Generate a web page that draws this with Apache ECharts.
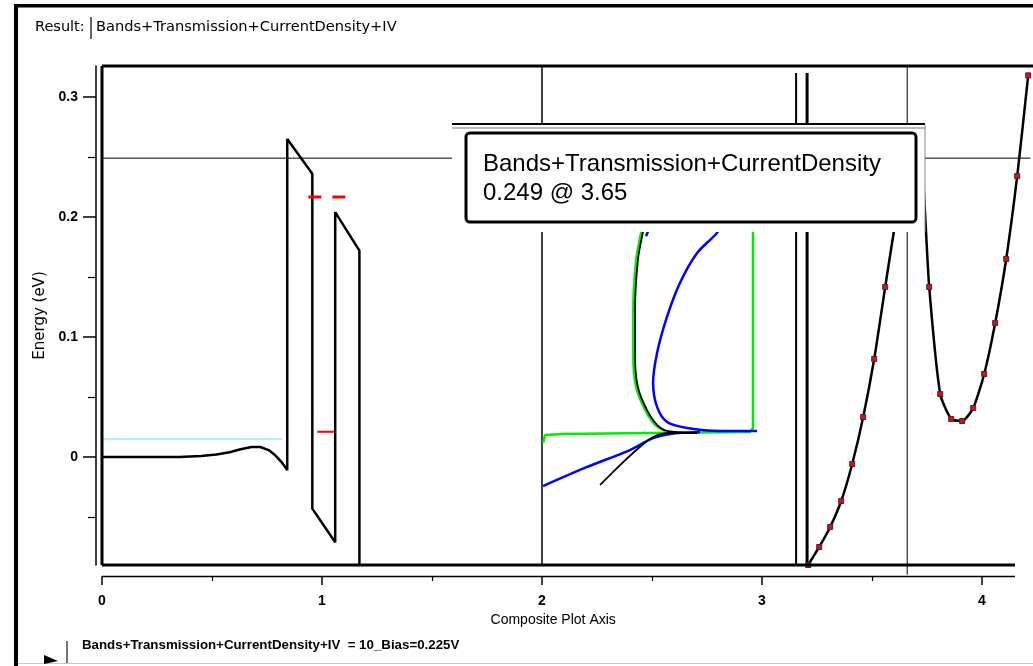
<!DOCTYPE html>
<html><head><meta charset="utf-8">
<script src="https://cdn.jsdelivr.net/npm/echarts@6/dist/echarts.min.js"></script>
<style>html,body{margin:0;padding:0;background:#fff}#c{width:1033px;height:666px}</style>
</head><body><div id="c"></div>
<script>
// ---- axis ticks ----
const xTicks = [0, 1, 2, 3, 4];
const xMinorTicks = [0.5, 1.5, 2.5, 3.5];
const yTicks = [0, 0.1, 0.2, 0.3];
const yMinorTicks = [-0.05, 0.05, 0.15, 0.25];

// ---- band profile (composite x, energy eV) ----
const bandsX = [0, 0.35, 0.45, 0.52, 0.58, 0.63, 0.68, 0.72, 0.76, 0.79, 0.815, 0.835, 0.842, 0.842, 0.956, 0.956, 1.06, 1.06, 1.17, 1.17];
const bandsY = [0, 0, 0.0008, 0.002, 0.004, 0.0065, 0.0083, 0.0083, 0.0055, 0.001, -0.004, -0.009, -0.011, 0.265, 0.236, -0.043, -0.071, 0.204, 0.172, -0.09];
const fermiX = [0, 0.82];
const fermiY = [0.015, 0.015];
const stateUpX = [0.938, 1.111];
const stateUpY = [0.2167, 0.2167];
const stateLowX = [0.979, 1.056];
const stateLowY = [0.021, 0.021];

// ---- transmission (green) ----
const transX = [2.005, 2.014, 2.095, 2.491, 2.945, 2.959, 2.959, 2.945, 2.877, 2.755];
const transY = [0.0117, 0.0183, 0.0192, 0.020, 0.0208, 0.0242, 0.1875, 0.21, 0.239, 0.2775];
const transDX = [2.483, 2.451, 2.428, 2.415, 2.415, 2.428, 2.469, 2.515, 2.56];
const transDY = [0.214, 0.1875, 0.164, 0.1225, 0.0833, 0.0583, 0.0392, 0.0267, 0.0217];

// ---- current density (black) ----
const cdUpX = [2.491, 2.459, 2.436, 2.423, 2.423, 2.436, 2.477, 2.523, 2.568, 2.705];
const cdUpY = [0.214, 0.1875, 0.164, 0.1225, 0.0833, 0.0583, 0.0392, 0.0267, 0.0217, 0.020];
const cdLowX = [2.264, 2.355, 2.445, 2.505, 2.582, 2.705];
const cdLowY = [-0.0233, -0.0067, 0.0083, 0.0167, 0.020, 0.020];

// ---- blue curves ----
const blueUpX = [2.9, 2.795, 2.705, 2.627, 2.568, 2.523, 2.505, 2.523, 2.568, 2.659, 2.809, 2.977];
const blueUpY = [0.214, 0.1867, 0.17, 0.145, 0.1167, 0.0867, 0.0617, 0.0417, 0.0292, 0.0242, 0.0217, 0.0217];
const blueLowX = [2.005, 2.205, 2.4, 2.505, 2.582, 2.718];
const blueLowY = [-0.0242, -0.0083, 0.0058, 0.0158, 0.0192, 0.0208];
const blueTopX = [2.473, 2.491, 2.582];
const blueTopY = [0.184, 0.1925, 0.2775];

// ---- IV curve ----
const ivX = [3.21, 3.26, 3.31, 3.36, 3.41, 3.46, 3.51, 3.56, 3.61, 3.66, 3.71, 3.76, 3.81, 3.86, 3.91, 3.96, 4.01, 4.06, 4.11, 4.16, 4.21];
const ivY = [-0.09, -0.075, -0.0583, -0.0367, -0.0058, 0.0333, 0.0817, 0.1417, 0.2, 0.25, 0.275, 0.1417, 0.0525, 0.0317, 0.03, 0.0408, 0.0692, 0.1117, 0.165, 0.234, 0.318];

// ---- panel dividers & cursor ----
const dividerX = [2.0];
const ivAxisX = [3.155, 3.205];
const crossX = 3.66;
const crossY = 0.249;
const yMin = -0.09, yMax = 0.3258, xMin = 0, xMax = 4.22;

function pts(xs, ys) { return xs.map((x, i) => [x, ys[i]]); }
function ln(name, xs, ys, color, width, extra) {
  return Object.assign({
    type: 'line', name: name, data: pts(xs, ys), symbol: 'none', showSymbol: false,
    lineStyle: { color: color, width: width }, itemStyle: { color: color },
    animation: false, silent: true, clip: false
  }, extra || {});
}

const chart = echarts.init(document.getElementById('c'));
const series = [
  ln('cursorH', [0, 4.22], [crossY, crossY], '#000', 1),
  ln('cursorV', [crossX, crossX], [-0.098, yMax], '#000', 1),
  ln('divider', [dividerX[0], dividerX[0]], [yMin, yMax], '#000', 1.5),
  ln('ivAxisA', [ivAxisX[0], ivAxisX[0]], [yMin, 0.32], '#000', 2),
  ln('ivAxisB', [ivAxisX[1], ivAxisX[1]], [yMin, 0.32], '#000', 3),
  ln('Fermi', fermiX, fermiY, '#9eeeee', 1.5),
  ln('Bands', bandsX, bandsY, '#000', 2.5),
  ln('StateUp', stateUpX, stateUpY, '#ff0000', 3, { lineStyle: { color: '#ff0000', width: 3, type: [13, 11] } }),
  ln('StateLow', stateLowX, stateLowY, '#ff0000', 2),
  ln('Transmission', transX, transY, '#00ee00', 2.5),
  ln('TransmissionD', transDX, transDY, '#00ee00', 2.5, { smooth: 0.3 }),
  ln('BlueUp', blueUpX, blueUpY, '#0000ff', 2.5, { smooth: 0.3 }),
  ln('BlueLow', blueLowX, blueLowY, '#0000ff', 2.5, { smooth: 0.3 }),
  ln('BlueTop', blueTopX, blueTopY, '#0000ff', 2.5),
  ln('CurrentDensityUp', cdUpX, cdUpY, '#000', 1.8, { smooth: 0.3 }),
  ln('CurrentDensityLow', cdLowX, cdLowY, '#000', 1.8, { smooth: 0.3 }),
  {
    type: 'line', name: 'IV', data: pts(ivX, ivY), symbol: 'rect', symbolSize: 5, showSymbol: true,
    smooth: 0.2, clip: false, animation: false, silent: true,
    lineStyle: { color: '#000', width: 2.5 },
    itemStyle: { color: '#ff0000', borderColor: '#1a3a3a', borderWidth: 1 }
  }
];

const tickFont = { fontFamily: 'Liberation Sans', fontWeight: 'bold', fontSize: 14, color: '#000' };
const T = (o) => Object.assign({ z: 100 }, o);
const graphic = [
  T({ type: 'rect', shape: { x: 14, y: 4, width: 4, height: 662 }, style: { fill: '#000' } }),
  T({ type: 'rect', shape: { x: 14, y: 4, width: 1019, height: 3.5 }, style: { fill: '#000' } }),
  T({ type: 'line', shape: { x1: 18, y1: 663.5, x2: 1033, y2: 663.5 }, style: { stroke: '#c8c8c8', lineWidth: 1 } }),
  T({ type: 'line', shape: { x1: 91, y1: 17, x2: 91, y2: 39 }, style: { stroke: '#333', lineWidth: 1.5 } }),
  T({ type: 'text', x: 35, y: 27, style: { text: 'Result:', fontFamily: 'DejaVu Sans', fontSize: 14.5, fill: '#000', verticalAlign: 'middle' } }),
  T({ type: 'text', x: 96, y: 27, style: { text: 'Bands+Transmission+CurrentDensity+IV', fontFamily: 'DejaVu Sans', fontSize: 14.6, fill: '#000', verticalAlign: 'middle' } }),
  T({ type: 'line', shape: { x1: 102, y1: 66, x2: 1033, y2: 66 }, style: { stroke: '#000', lineWidth: 3 } }),
  T({ type: 'line', shape: { x1: 102, y1: 66, x2: 102, y2: 565 }, style: { stroke: '#000', lineWidth: 3 } }),
  T({ type: 'line', shape: { x1: 102, y1: 565, x2: 1015, y2: 565 }, style: { stroke: '#000', lineWidth: 3 } }),
  // x axis baseline (stops short of the plot's right edge, as in the source)
  T({ type: 'line', shape: { x1: 102, y1: 576.5, x2: 1015, y2: 576.5 }, style: { stroke: '#000', lineWidth: 1.5 } }),
  T({ type: 'rect', z: 101, shape: { x: 452, y: 124, width: 473, height: 108 }, style: { fill: '#fff' } }),
  T({ type: 'line', z: 102, shape: { x1: 452, y1: 124, x2: 925, y2: 124 }, style: { stroke: '#000', lineWidth: 2 } }),
  T({ type: 'line', z: 102, shape: { x1: 452, y1: 128, x2: 925, y2: 128 }, style: { stroke: '#777', lineWidth: 1 } }),
  T({ type: 'line', z: 102, shape: { x1: 925, y1: 124, x2: 925, y2: 232 }, style: { stroke: '#888', lineWidth: 1 } }),
  T({ type: 'rect', z: 103, shape: { x: 466, y: 133, width: 450, height: 89, r: 4 }, style: { fill: '#fff', stroke: '#000', lineWidth: 3 } }),
  T({ type: 'text', z: 104, x: 483, y: 164, style: { text: 'Bands+Transmission+CurrentDensity', fontFamily: 'Liberation Sans', fontSize: 24, fill: '#000', verticalAlign: 'middle' } }),
  T({ type: 'text', z: 104, x: 483, y: 193, style: { text: '0.249 @ 3.65', fontFamily: 'Liberation Sans', fontSize: 24, fill: '#000', verticalAlign: 'middle' } }),
  T({ type: 'polygon', shape: { points: [[44, 655], [58, 661], [44, 664]] }, style: { fill: '#000' } }),
  T({ type: 'line', shape: { x1: 67, y1: 641, x2: 67, y2: 663 }, style: { stroke: '#444', lineWidth: 1.5 } }),
  T({ type: 'text', x: 82, y: 645, style: { text: 'Bands+Transmission+CurrentDensity+IV  = 10_Bias=0.225V', fontFamily: 'Liberation Sans', fontWeight: 'bold', fontSize: 13.3, fill: '#000', verticalAlign: 'middle' } })
];

chart.setOption({
  backgroundColor: '#fff',
  animation: false,
  grid: { left: 102, top: 66, width: 928.4, height: 499, containLabel: false },
  xAxis: [
    {
      type: 'value', min: xMin, max: xMax, position: 'bottom', offset: 11,
      name: 'Composite Plot Axis', nameLocation: 'middle', nameGap: 37,
      nameTextStyle: { fontFamily: 'Liberation Sans', fontSize: 14, color: '#000', padding: [0, 26, 0, 0], align: 'center' },
      axisLine: { show: false, onZero: false },
      axisTick: { show: true, customValues: xTicks, length: 9, lineStyle: { color: '#000', width: 1.5 } },
      axisLabel: { customValues: xTicks, margin: 18, formatter: (v) => String(v), ...tickFont },
      splitLine: { show: false }
    },
    {
      type: 'value', min: xMin, max: xMax, position: 'bottom', offset: 11,
      axisLine: { show: false, onZero: false },
      axisTick: { show: true, customValues: xMinorTicks, length: 5, lineStyle: { color: '#000', width: 1.2 } },
      axisLabel: { show: false }, splitLine: { show: false }
    }
  ],
  yAxis: [
    {
      type: 'value', min: yMin, max: yMax, position: 'left', offset: 6,
      name: 'Energy (eV)', nameLocation: 'middle', nameGap: 40,
      nameTextStyle: { fontFamily: 'DejaVu Sans', fontSize: 15, color: '#000' },
      axisLine: { show: true, onZero: false, lineStyle: { color: '#000', width: 1.5 } },
      axisTick: { show: true, customValues: yTicks, length: 13, lineStyle: { color: '#000', width: 1.5 } },
      axisLabel: { customValues: yTicks, margin: 18, formatter: (v) => (Math.abs(v) < 1e-9 ? '0' : v.toFixed(1)), ...tickFont },
      splitLine: { show: false }
    },
    {
      type: 'value', min: yMin, max: yMax, position: 'left', offset: 6,
      axisLine: { show: false, onZero: false },
      axisTick: { show: true, customValues: yMinorTicks, length: 8, lineStyle: { color: '#000', width: 1.2 } },
      axisLabel: { show: false }, splitLine: { show: false }
    }
  ],
  series: series,
  graphic: graphic
});
</script>
</body></html>
